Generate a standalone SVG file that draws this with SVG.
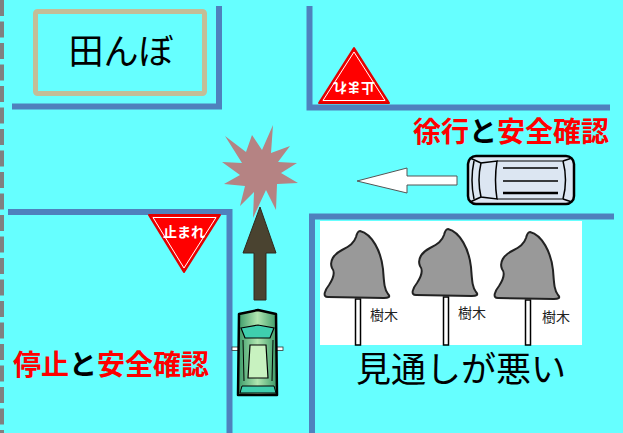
<svg xmlns="http://www.w3.org/2000/svg" width="623" height="433" viewBox="0 0 623 433">
  <style>
    .road { stroke: #4F81BD; stroke-width: 6; fill: none; stroke-linecap: square; }
    .jp { font-family: "Noto Sans CJK JP", "Noto Sans", sans-serif; }
    .red { fill: #FF0000; }
    .blk { fill: #000000; }
    .sign { fill: #FF0000; stroke: #E00000; stroke-width: 2; stroke-linejoin: round; }
    .signline { fill: none; stroke: #FFFFFF; stroke-width: 1; stroke-linejoin: round; }
    .signtxt { fill: #FFFFFF; font-size: 14px; font-weight: 700; text-anchor: middle; }
    .canopy { fill: #999999; stroke: #222222; stroke-width: 2; stroke-linejoin: round; }
    .trunk { fill: #FFFFFF; stroke: #000000; stroke-width: 1.5; }
    .treetxt { font-size: 14px; fill: #222222; }
  </style>
  <defs>
    <linearGradient id="greenBody" x1="0" y1="0" x2="1" y2="0">
      <stop offset="0" stop-color="#3A9A68"/>
      <stop offset="0.5" stop-color="#B0E6B0"/>
      <stop offset="1" stop-color="#3A9A68"/>
    </linearGradient>
    <path id="canopyShape" class="canopy" d="M2,-68 C14,-65 23,-48 25,-30 C26,-18 26,-10 30,-5 C33,-2 30,-1 26,-1 L-30,-2 C-36,-2 -33,-9 -29,-14 C-25,-20 -22,-26 -26,-31 C-29,-38 -24,-45 -16,-49 C-8,-53 -4,-56 -2,-62 C-1,-66 0,-68 2,-68 Z"/>
  </defs>

  <!-- ground -->
  <rect x="0" y="0" width="623" height="433" fill="#66FFFF"/>
  <line x1="2" y1="0" x2="2" y2="433" stroke="#808080" stroke-width="4" stroke-dasharray="16 5.5"/>

  <!-- road edges -->
  <g id="roads">
    <polyline class="road" points="15,106.5 219,106.5 219,9"/>
    <polyline class="road" points="309.5,9 309.5,107.5 607,107.5"/>
    <polyline class="road" points="11,212 229.5,212 229.5,433"/>
    <polyline class="road" points="312,433 312,216.5 611,216.5"/>
  </g>

  <!-- rice field -->
  <g id="field">
    <rect x="35.5" y="11.5" width="169" height="82" rx="2" fill="none" stroke="#C4BD97" stroke-width="5"/>
    <text class="jp blk" x="121" y="64" font-size="35" text-anchor="middle">田んぼ</text>
  </g>

  <!-- stop sign, far side (seen upside down) -->
  <g id="sign-top">
    <polygon class="sign" points="319,103 389,103 354,48"/>
    <polygon class="signline" points="323,100.5 385,100.5 354,52"/>
    <text class="jp signtxt" transform="rotate(180 354 88)" x="354" y="93">止まれ</text>
  </g>

  <!-- stop sign, near side -->
  <g id="sign-bottom">
    <polygon class="sign" points="149,215 220,215 184,272"/>
    <polygon class="signline" points="153,217.5 216,217.5 184,268"/>
    <text class="jp signtxt" x="184" y="237">止まれ</text>
  </g>

  <!-- collision mark -->
  <g id="crash">
    <polygon fill="#B58383" points="225,136 246,152 252,135 262,150 273,125 271,153 290,146 278,162 297,163 281,173 298,183 277,184 276,210 266,190 253,218 254,192 240,206 245,186 224,184 240,175 222,162 242,163"/>
  </g>

  <!-- travel arrows -->
  <g id="connectors">
    <polygon fill="#4A4330" stroke="#2E2A1E" stroke-width="1" points="260,207 276,253 266,253 266,300 254,300 254,253 243,253"/>
    <polygon fill="#FFFFFF" stroke="#555555" stroke-width="1" points="357,181 407,168 407,176 457,176 457,185 407,185 407,193"/>
  </g>

  <!-- van approaching from the right -->
  <g id="van">
    <rect x="468" y="156" width="106" height="48" rx="8" fill="#DCE6F2" stroke="#000000" stroke-width="2.5"/>
    <path d="M474,161 Q470,180 474,199" fill="none" stroke="#000" stroke-width="1.5"/>
    <path d="M481,163 Q477,180 481,197 L497,199 Q494,180 497,161 Z" fill="#DCE6F2" stroke="#000" stroke-width="1.5"/>
    <line x1="470" y1="158" x2="481" y2="163" stroke="#000" stroke-width="1.5"/>
    <line x1="470" y1="202" x2="481" y2="197" stroke="#000" stroke-width="1.5"/>
    <line x1="497" y1="161" x2="563" y2="161" stroke="#000" stroke-width="1.2"/>
    <line x1="497" y1="199" x2="563" y2="199" stroke="#000" stroke-width="1.2"/>
    <path d="M563,161 Q568,180 563,199" fill="none" stroke="#000" stroke-width="1.5"/>
    <line x1="563" y1="161" x2="572" y2="158" stroke="#000" stroke-width="1.5"/>
    <line x1="563" y1="199" x2="572" y2="202" stroke="#000" stroke-width="1.5"/>
    <line x1="503" y1="168" x2="558" y2="168" stroke="#000" stroke-width="1.5"/>
    <line x1="503" y1="181" x2="558" y2="181" stroke="#000" stroke-width="1.5"/>
    <line x1="503" y1="193" x2="558" y2="193" stroke="#000" stroke-width="2.5"/>
  </g>

  <!-- car waiting at the stop line -->
  <g id="car">
    <rect x="232" y="347" width="7" height="3.5" fill="#FFFFFF" stroke="#333" stroke-width="0.8"/>
    <rect x="276" y="347" width="7" height="3.5" fill="#FFFFFF" stroke="#333" stroke-width="0.8"/>
    <path d="M239,314 L258,310 L276,314 L277,395 L238,395 Z" fill="url(#greenBody)" stroke="#000" stroke-width="2.5" stroke-linejoin="round"/>
    <path d="M241,328 L258,325 L274,328 L270,338 L245,338 Z" fill="#3FCFAE" stroke="#000" stroke-width="1.2"/>
    <path d="M250,345 L266,345 L268,378 L248,378 Z" fill="#C8F2C0" stroke="#000" stroke-width="1.2"/>
    <line x1="243" y1="340" x2="244" y2="381" stroke="#000" stroke-width="1"/>
    <line x1="273" y1="340" x2="272" y2="381" stroke="#000" stroke-width="1"/>
    <path d="M242,386 L274,386 L276,393 L240,393 Z" fill="#3FCFAE" stroke="#000" stroke-width="1"/>
  </g>

  <!-- trees blocking the view -->
  <g id="trees">
    <rect x="320" y="221" width="262" height="124" fill="#FFFFFF"/>
    <g id="tree1" transform="translate(358,299)">
      <rect class="trunk" x="-2.5" y="0" width="5" height="46"/>
      <use href="#canopyShape"/>
      <text class="jp treetxt" x="12" y="21">樹木</text>
    </g>
    <g id="tree2" transform="translate(446,297)">
      <rect class="trunk" x="-2.5" y="0" width="5" height="48"/>
      <use href="#canopyShape"/>
      <text class="jp treetxt" x="12" y="21">樹木</text>
    </g>
    <g id="tree3" transform="translate(528,300)">
      <rect class="trunk" x="-2.5" y="0" width="5" height="45"/>
      <use href="#canopyShape"/>
      <text class="jp treetxt" x="14" y="22">樹木</text>
    </g>
  </g>

  <!-- labels -->
  <g id="labels">
    <text class="jp" x="413" y="142" font-size="28" font-weight="700"><tspan class="red">徐行</tspan><tspan class="blk">と</tspan><tspan class="red">安全確認</tspan></text>
    <text class="jp" x="13" y="375" font-size="28" font-weight="700"><tspan class="red">停止</tspan><tspan class="blk">と</tspan><tspan class="red">安全確認</tspan></text>
    <text class="jp blk" x="461" y="382" font-size="35" text-anchor="middle">見通しが悪い</text>
  </g>
</svg>
